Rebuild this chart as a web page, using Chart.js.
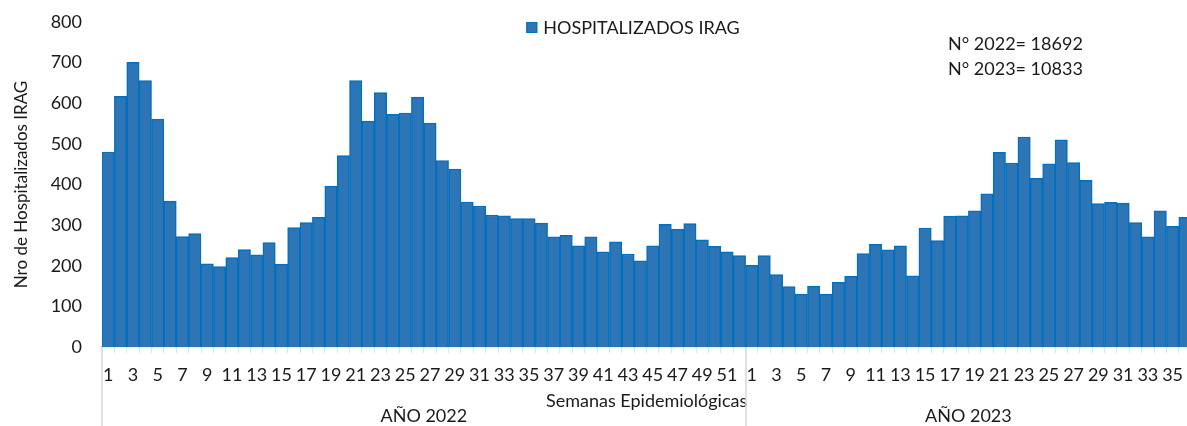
<!DOCTYPE html>
<html>
<head>
<meta charset="utf-8">
<script src="https://cdn.jsdelivr.net/npm/chart.js@4"></script>
<style>
  html, body { margin: 0; padding: 0; background: #fff; overflow: hidden; }
  #wrap { width: 1196px; height: 426px; }
</style>
</head>
<body>
<div id="wrap"><canvas id="grafico" width="1196" height="426"></canvas></div>
<script>
// ===============================
// DATOS
// ===============================
const semanas2022 = [1,2,3,4,5,6,7,8,9,10,11,12,13,14,15,16,17,18,19,20,21,22,23,24,25,26,
  27,28,29,30,31,32,33,34,35,36,37,38,39,40,41,42,43,44,45,46,47,48,49,50,51,52];
const semanas2023 = [1,2,3,4,5,6,7,8,9,10,11,12,13,14,15,16,17,18,19,20,21,22,23,24,25,26,
  27,28,29,30,31,32,33,34,35,36];

const hosp2022 = [480,617,701,656,561,359,272,279,205,198,220,240,227,257,204,294,306,319,396,471,
  656,556,626,573,576,615,551,459,438,357,347,325,323,316,316,305,271,275,249,271,234,259,229,212,
  249,302,290,304,264,248,234,225];
const hosp2023 = [201,225,178,149,130,150,130,159,174,230,253,239,249,175,293,262,322,323,335,377,
  479,453,517,415,451,510,454,410,353,356,354,306,271,335,297,319];

const totales = ["N° 2022= 18692", "N° 2023= 10833"];
const grupos = ["AÑO 2022", "AÑO 2023"];
const nombreSerie = "HOSPITALIZADOS IRAG";

const etiquetas = semanas2022.concat(semanas2023);
const valores = hosp2022.concat(hosp2023);

const FUENTE = "Lato, 'Open Sans', sans-serif";
const AZUL = "#2E75B6";
const BORDE = "#0070C0";
const TEXTO = "#1a1a1a";

// ===============================
// PLUGIN: leyenda, totales, grupos de años
// ===============================
const extras = {
  id: "extras",
  afterDraw(chart) {
    const { ctx, chartArea, scales } = chart;
    const x = scales.x;
    ctx.save();
    ctx.font = "18px " + FUENTE;
    ctx.fillStyle = TEXTO;
    ctx.textBaseline = "middle";

    // leyenda
    const anchoTxt = ctx.measureText(nombreSerie).width;
    const cx = 633;
    const x0 = cx - (anchoTxt + 17) / 2;
    ctx.fillStyle = AZUL;
    ctx.fillRect(x0, 22, 11, 11);
    ctx.strokeStyle = BORDE;
    ctx.lineWidth = 1;
    ctx.strokeRect(x0 + 0.5, 22.5, 10, 10);
    ctx.fillStyle = TEXTO;
    ctx.textAlign = "left";
    ctx.fillText(nombreSerie, x0 + 17, 28);

    // totales
    ctx.fillText(totales[0], 948, 44);
    ctx.fillText(totales[1], 948, 69);

    // separadores y nombres de grupo
    const n1 = semanas2022.length;
    const limites = [
      x.getPixelForTick(0) - (x.getPixelForTick(1) - x.getPixelForTick(0)) / 2,
      (x.getPixelForTick(n1 - 1) + x.getPixelForTick(n1)) / 2,
      chartArea.right
    ];
    ctx.strokeStyle = "#d9d9d9";
    ctx.lineWidth = 1.5;
    [limites[0], limites[1]].forEach(px => {
      ctx.beginPath();
      ctx.moveTo(Math.round(px), chartArea.bottom);
      ctx.lineTo(Math.round(px), chart.height);
      ctx.stroke();
    });
    ctx.textAlign = "center";
    ctx.fillText(grupos[0], (limites[0] + limites[1]) / 2, 416);
    ctx.fillText(grupos[1], (limites[1] + limites[2]) / 2, 416);
    ctx.restore();
  }
};

// ===============================
// GRÁFICA
// ===============================
new Chart(document.getElementById("grafico"), {
  type: "bar",
  data: {
    labels: etiquetas,
    datasets: [{
      label: nombreSerie,
      data: valores,
      backgroundColor: AZUL,
      borderColor: BORDE,
      borderWidth: 1.5,
      barPercentage: 1,
      categoryPercentage: 1
    }]
  },
  options: {
    responsive: false,
    animation: false,
    layout: { padding: { top: 22, right: 0, left: 0, bottom: 0 } },
    plugins: { legend: { display: false }, tooltip: { enabled: false } },
    scales: {
      x: {
        afterFit: s => { s.height = 79; },
        grid: { drawOnChartArea: false, drawTicks: true, tickLength: 6, color: "#dbe3ee" },
        border: { color: "#d9d9d9", width: 1.5 },
        ticks: {
          autoSkip: false, maxRotation: 0, padding: 11, color: TEXTO,
          font: { family: FUENTE, size: 18 },
          callback: function (v, i) { return etiquetas[i] % 2 === 1 ? String(etiquetas[i]) : ""; }
        },
        title: {
          display: true, text: "Semanas Epidemiológicas", color: TEXTO,
          font: { family: FUENTE, size: 18 }, padding: { top: 0, bottom: 14 }
        }
      },
      y: {
        min: 0, max: 800,
        afterFit: s => { s.width = 102; },
        grid: { display: false, drawTicks: true, tickLength: 19 },
        border: { display: false },
        ticks: { stepSize: 100, padding: 1, color: TEXTO, font: { family: FUENTE, size: 18 } },
        title: {
          display: true, text: "Nro de Hospitalizados IRAG", color: TEXTO,
          font: { family: FUENTE, size: 17 }, padding: { top: 11, bottom: 0 }
        }
      }
    }
  },
  plugins: [extras]
});
</script>
</body>
</html>
